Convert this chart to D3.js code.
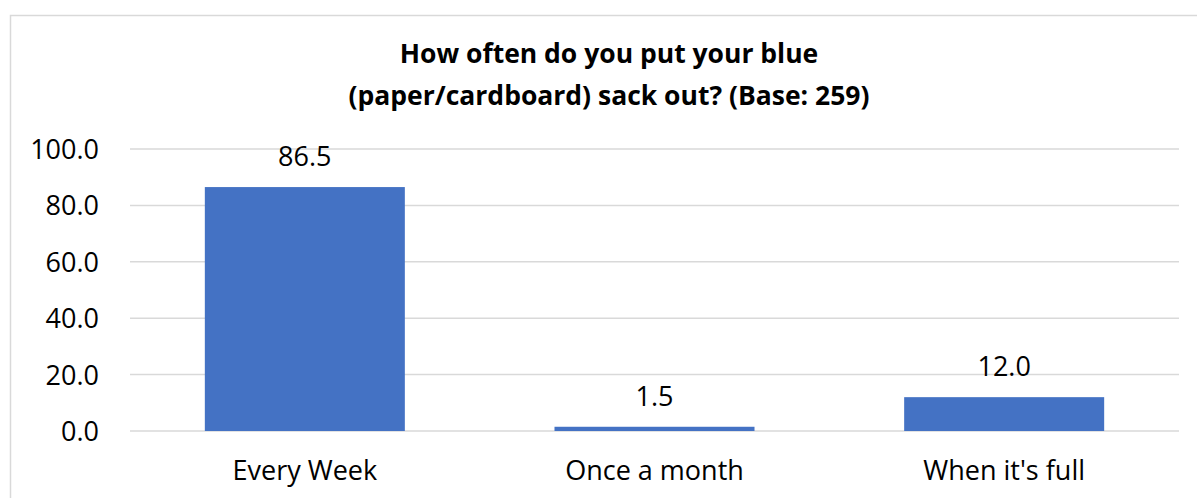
<!DOCTYPE html>
<html>
<head>
<meta charset="utf-8">
<script src="https://cdn.jsdelivr.net/npm/d3@7"></script>
<style>
  body { margin: 0; background: #fff; }
  text { font-family: "Open Sans", Lato, sans-serif; fill: #000; }
</style>
</head>
<body>
<script>
var width = 1197;
var height = 498;
var margin = { top: 149, right: 18, bottom: 67, left: 130 };

// dati del grafico
var categories = ['Every Week', 'Once a month', "When it's full"];
var values = [86.5, 1.5, 12.0];
var yTicks = [0, 20, 40, 60, 80, 100];
var titleLines = ['How often do you put your blue', '(paper/cardboard) sack out? (Base: 259)'];

var svg = d3.select('body').append('svg')
  .attr('width', width)
  .attr('height', height);

// bordo del grafico
svg.append('rect')
  .attr('x', 10.5).attr('y', 15.5)
  .attr('width', 1220).attr('height', 520)
  .style('fill', 'none')
  .style('stroke', '#d9d9d9')
  .style('stroke-width', 1.5);

var x = d3.scaleBand().domain(categories)
  .range([margin.left, width - margin.right])
  .paddingInner(0.428).paddingOuter(0.214);
var y = d3.scaleLinear().domain([0, 100]).range([height - margin.bottom, margin.top]);

// titolo
svg.append('g').selectAll('text')
  .data(titleLines)
  .enter().append('text')
  .attr('x', 609)
  .attr('y', function (d, i) { return 63 + i * 42; })
  .attr('text-anchor', 'middle')
  .style('font-size', '26.5px')
  .style('font-weight', 'bold')
  .text(function (d) { return d; });

// griglia
svg.append('g').selectAll('line')
  .data(yTicks)
  .enter().append('line')
  .attr('x1', margin.left).attr('x2', width - margin.right)
  .attr('y1', function (d) { return y(d); })
  .attr('y2', function (d) { return y(d); })
  .style('stroke', '#d9d9d9')
  .style('stroke-width', 1.5);

// asse y
var yAxis = svg.append('g')
  .attr('transform', 'translate(' + (margin.left - 31) + ',0)')
  .call(d3.axisLeft(y).tickValues(yTicks).tickFormat(d3.format('.1f')).tickSize(0).tickPadding(0));
yAxis.select('.domain').remove();
yAxis.selectAll('text').style('font-size', '27px').attr('dy', '0.35em');

// barre
svg.append('g').selectAll('rect')
  .data(values)
  .enter().append('rect')
  .attr('x', function (d, i) { return x(categories[i]); })
  .attr('y', function (d) { return y(d); })
  .attr('width', x.bandwidth())
  .attr('height', function (d) { return y(0) - y(d); })
  .style('fill', '#4472c4');

// etichette dei valori
svg.append('g').selectAll('text')
  .data(values)
  .enter().append('text')
  .attr('x', function (d, i) { return x(categories[i]) + x.bandwidth() / 2; })
  .attr('y', function (d) { return y(d) - 21; })
  .attr('text-anchor', 'middle')
  .style('font-size', '27px')
  .text(function (d) { return d3.format('.1f')(d); });

// asse x
var xAxis = svg.append('g')
  .attr('transform', 'translate(0,' + y(0) + ')')
  .call(d3.axisBottom(x).tickSize(0).tickPadding(0));
xAxis.select('.domain').remove();
xAxis.selectAll('text').style('font-size', '27px').attr('y', 49).attr('dy', 0);
</script>
</body>
</html>
